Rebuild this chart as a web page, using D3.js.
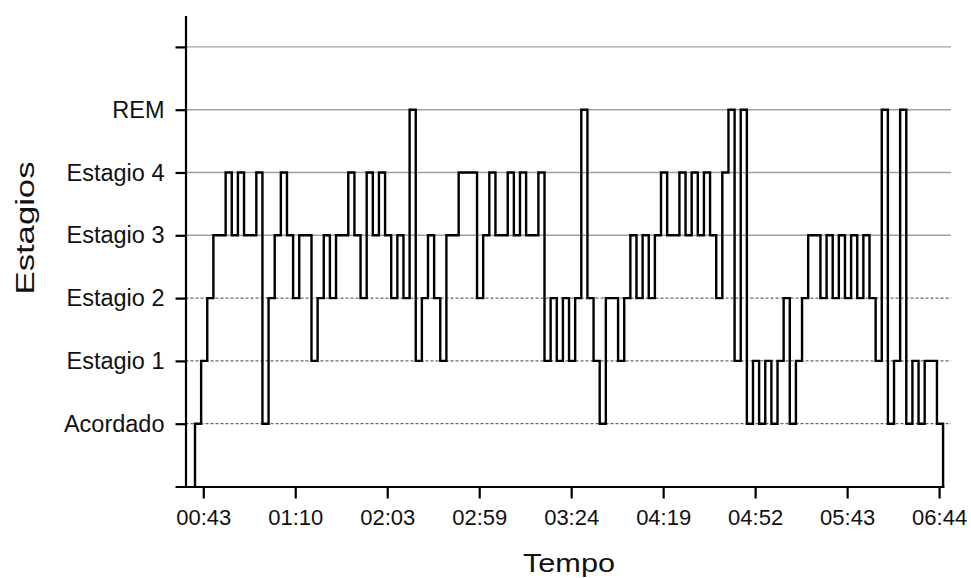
<!DOCTYPE html>
<html>
<head>
<meta charset="utf-8">
<script src="https://cdn.jsdelivr.net/npm/d3@7/dist/d3.min.js"></script>
<style>
  html, body { margin: 0; padding: 0; background: #fff; }
  #chart { width: 971px; height: 578px; }
</style>
</head>
<body>
<div id="chart"></div>
<script>
// estagios do sono (1 = Acordado ... 6 = REM)
const stageNames = ["Acordado", "Estagio 1", "Estagio 2", "Estagio 3", "Estagio 4", "REM"];

// rotulos do eixo do tempo
const timeLabels = ["00:43", "01:10", "02:03", "02:59", "03:24", "04:19", "04:52", "05:43", "06:44"];

// hipnograma, um valor por epoca
const hypnogram = [
  1, 2, 3, 4, 4, 5, 4, 5, 4, 4,
  5, 1, 3, 4, 5, 4, 3, 4, 4, 2,
  3, 4, 3, 4, 4, 5, 4, 3, 5, 4,
  5, 4, 3, 4, 3, 6, 2, 3, 4, 3,
  2, 4, 4, 5, 5, 5, 3, 4, 5, 4,
  4, 5, 4, 5, 4, 4, 5, 2, 3, 2,
  3, 2, 3, 6, 3, 2, 1, 3, 3, 2,
  3, 4, 3, 4, 3, 4, 5, 4, 4, 5,
  4, 5, 4, 5, 4, 3, 5, 6, 2, 6,
  1, 2, 1, 2, 1, 2, 3, 1, 2, 3,
  4, 4, 3, 4, 3, 4, 3, 4, 3, 4,
  3, 2, 6, 1, 2, 6, 1, 2, 1, 2, 2, 1
];

// posicao do primeiro rotulo (em epocas) e passo entre rotulos
const tickStart = 1.35;
const tickStep = 15;

const width = 971, height = 578;
const n = hypnogram.length;
const FONT = "'Liberation Sans', Arial, sans-serif";

const svg = d3.select("#chart").append("svg")
  .attr("width", width)
  .attr("height", height)
  .style("font-family", FONT);

const x = d3.scaleLinear().domain([-3.26, n + 0.15]).range([175, 944]);
const y = d3.scaleLinear().domain([0, 7.5]).range([486.5, 15.5]);
const yAxisX = 185.5;

// --- linhas de grade ---
const levels = d3.range(1, 8);
svg.append("g").selectAll("line")
  .data(levels)
  .join("line")
  .attr("x1", yAxisX)
  .attr("x2", 951)
  .attr("y1", d => y(d))
  .attr("y2", d => y(d))
  .attr("stroke", d => d <= 3 ? "#444" : "#a0a0a0")
  .attr("stroke-width", d => d <= 3 ? 1 : 1.4)
  .attr("stroke-dasharray", d => d <= 3 ? "3,2" : null);

// --- eixo X ---
const majorTicks = timeLabels.map((_, i) => tickStart + i * tickStep);
const minorTicks = [];
for (let i = 0; i < majorTicks.length - 1; i++) {
  for (let k = 1; k < 3; k++) minorTicks.push(majorTicks[i] + k * tickStep / 3);
}

const gx = svg.append("g").attr("transform", `translate(0,${y(0)})`);
gx.call(d3.axisBottom(x).tickValues(minorTicks).tickSize(7).tickSizeOuter(0).tickFormat(""));
gx.call(d3.axisBottom(x).tickValues(majorTicks).tickSize(12).tickSizeOuter(0).tickPadding(11)
  .tickFormat((d, i) => timeLabels[i]));

// --- eixo Y ---
const gy = svg.append("g").attr("transform", `translate(${yAxisX},0)`);
gy.call(d3.axisLeft(y).tickValues(d3.range(0.5, 7, 1)).tickSize(5).tickSizeOuter(0).tickFormat(""));
gy.call(d3.axisLeft(y).tickValues(levels).tickSize(10).tickSizeOuter(0).tickPadding(11)
  .tickFormat(d => stageNames[d - 1] || ""));

[gx, gy].forEach(g => {
  g.attr("font-family", null);
  g.selectAll("path.domain").attr("stroke", "#000").attr("stroke-width", 2.2);
  g.selectAll(".tick line").attr("stroke", "#000").attr("stroke-width", 2.2);
  g.selectAll(".tick text").attr("fill", "#111").style("font-family", FONT);
});
gx.selectAll(".tick text").style("font-size", "22px");
gy.selectAll(".tick text").style("font-size", "23.5px");

// --- hipnograma ---
const points = [[0, 0]]
  .concat(hypnogram.map((s, i) => [i, s]))
  .concat([[n, hypnogram[n - 1]], [n, 0]]);

svg.append("path")
  .datum(points)
  .attr("fill", "none")
  .attr("stroke", "#000")
  .attr("stroke-width", 2.4)
  .attr("stroke-linejoin", "miter")
  .attr("d", d3.line().x(d => x(d[0])).y(d => y(d[1])).curve(d3.curveStepAfter));

// --- titulos dos eixos ---
svg.append("text")
  .attr("x", 569)
  .attr("y", 572)
  .attr("text-anchor", "middle")
  .attr("textLength", 92)
  .attr("lengthAdjust", "spacingAndGlyphs")
  .attr("fill", "#111")
  .style("font-size", "26px")
  .text("Tempo");

svg.append("text")
  .attr("transform", "translate(34,228) rotate(-90)")
  .attr("text-anchor", "middle")
  .attr("textLength", 133)
  .attr("lengthAdjust", "spacingAndGlyphs")
  .attr("fill", "#111")
  .style("font-size", "26px")
  .text("Estagios");
</script>
</body>
</html>
